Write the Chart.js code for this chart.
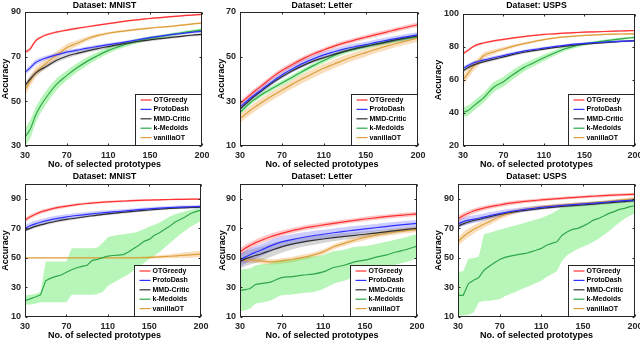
<!DOCTYPE html>
<html>
<head>
<meta charset="utf-8">
<script src="https://cdn.jsdelivr.net/npm/chart.js@4/dist/chart.umd.min.js"></script>
<style>
  html, body { margin: 0; padding: 0; background: #fff; }
  #wrap { position: relative; width: 640px; height: 342px; overflow: hidden; }
  #wrap canvas { position: absolute; }
</style>
</head>
<body>
<div id="wrap">
  <canvas id="c1"></canvas>
  <canvas id="c2"></canvas>
  <canvas id="c3"></canvas>
  <canvas id="c4"></canvas>
  <canvas id="c5"></canvas>
  <canvas id="c6"></canvas>
</div>
<script>
// Datos: eje x (numero de prototipos)
const X = [30,35,40,45,50,60,70,80,90,100,110,120,130,140,150,160,170,180,190,200];
const XK = [30,35,40,45,50,55,60,65,70,75,80,85,90,95,100,105,110,115,120,125,130,135,140,145,150,155,160,165,170,175,180,185,190,195,200];
const xTicks = [30,70,110,150,200];

const names = ['OTGreedy','ProtoDash','MMD-Critic','k-Medoids','vanillaOT'];

// Fila superior: MNIST
const mnist1_ot = [72,73.5,77,78.6,79.7,81,81.9,82.7,83.4,84.1,84.8,85.5,86.1,86.6,87.1,87.5,87.9,88.3,88.6,89];
const mnist1_otSd = [0.8,0.8,0.7,0.6,0.6,0.5,0.5,0.5,0.4,0.4,0.4,0.4,0.4,0.4,0.4,0.4,0.4,0.4,0.4,0.4];
const mnist1_pd = [63,65,67.3,68.5,69.4,70.8,72,72.9,73.8,74.6,75.4,76.1,76.9,77.7,78.5,79.2,79.9,80.4,80.9,81.3];
const mnist1_pdSd = [1.2,1.2,1.2,1.1,1,1,0.9,0.8,0.8,0.7,0.7,0.6,0.6,0.6,0.5,0.5,0.5,0.5,0.5,0.5];
const mnist1_mmd = [57,60,62.5,64.2,65.5,68.3,70.2,71.5,72.6,73.6,74.5,75.4,76.2,76.9,77.5,78.1,78.6,79.1,79.6,80];
const mnist1_mmdSd = [1.5,1.4,1.3,1.2,1.1,1,1,0.9,0.9,0.8,0.8,0.7,0.7,0.7,0.6,0.6,0.6,0.6,0.6,0.6];
const mnist1_km = [34,37.5,43.5,48,51.5,57.5,61.5,65,68,70.5,72.8,74.5,76,77.2,78.2,79,79.8,80.6,81.3,82];
const mnist1_kmSd = [4,4,3.5,3.2,3,2.6,2.2,2,1.8,1.6,1.4,1.2,1.1,1,0.9,0.8,0.8,0.7,0.7,0.7];
const mnist1_van = [55,59,62.8,65,67,70.5,74,76,78,79.5,80.5,81.2,81.8,82.3,82.8,83.2,83.6,84.1,84.6,85];
const mnist1_vanSd = [2.5,2.3,2.2,2,2,1.8,1.6,1.3,1,0.8,0.6,0.5,0.5,0.5,0.4,0.4,0.4,0.4,0.4,0.4];

// Fila superior: Letter
const letter1_ot = [29,31,33,35,36.7,40.5,43.8,46.5,49,51.2,53,54.7,56.2,57.5,58.7,59.9,61,62.2,63.3,64.3];
const letter1_otSd = [1.2,1.2,1.2,1.2,1.2,1.1,1.1,1.1,1.1,1,1,1,1,1,1,1,1,1,1,1];
const letter1_pd = [27.5,29.5,31.5,33.3,35,38.6,41.8,44.5,47,49,50.8,52.2,53.5,54.5,55.4,56.4,57.3,58.2,59,59.8];
const letter1_pdSd = [1.5,1.5,1.5,1.5,1.5,1.5,1.5,1.5,1.5,1.5,1.5,1.4,1.4,1.4,1.3,1.3,1.3,1.3,1.3,1.3];
const letter1_mmd = [26.5,28.7,30.8,32.7,34.5,38,41,43.7,46,48,49.6,51,52.4,53.6,54.6,55.6,56.6,57.6,58.5,59.3];
const letter1_mmdSd = [0.7,0.7,0.7,0.7,0.7,0.7,0.7,0.7,0.7,0.7,0.7,0.7,0.7,0.7,0.7,0.7,0.7,0.7,0.7,0.7];
const letter1_km = [25,27.3,29.5,31.2,32.8,35.6,38.2,40.8,43.5,46,48.3,50.5,52.2,53.5,54.6,55.6,56.6,57.5,58.3,59];
const letter1_kmSd = [1.1,1.1,1.1,1.1,1.1,1.1,1.1,1.1,1.1,1.1,1.1,1.1,1,1,1,1,1,1,1,1];
const letter1_van = [22.3,24.2,26,27.7,29.3,32.3,35,37.7,40.2,42.6,44.8,46.7,48.6,50.3,51.8,53.3,54.7,56,57.2,58.3];
const letter1_vanSd = [2,2,2,2,2,2,2,2,2,2,2,1.9,1.9,1.8,1.8,1.7,1.7,1.6,1.6,1.6];

// Fila superior: USPS
const usps1_ot = [76,78,80.2,81.6,82.4,83.7,84.6,85.5,86.3,87,87.6,88,88.4,88.7,89,89.2,89.4,89.6,89.8,90];
const usps1_otSd = [0.8,0.8,0.7,0.7,0.7,0.6,0.6,0.6,0.5,0.5,0.5,0.5,0.5,0.5,0.5,0.5,0.5,0.5,0.5,0.5];
const usps1_pd = [67,68.8,70.3,71.2,72,73.5,74.8,76.2,77.5,78.5,79.3,80.2,81,81.7,82.2,82.6,83,83.3,83.6,83.8];
const usps1_pdSd = [1.2,1.2,1.1,1.1,1,1,1,0.9,0.9,0.8,0.8,0.7,0.7,0.7,0.6,0.6,0.6,0.6,0.6,0.6];
const usps1_mmd = [65.5,67.5,69,70.1,71,72.5,74,75.5,76.8,77.8,78.7,79.6,80.4,81.1,81.7,82.2,82.7,83.1,83.5,83.8];
const usps1_mmdSd = [1.2,1.2,1.1,1.1,1,1,1,0.9,0.9,0.8,0.8,0.7,0.7,0.7,0.6,0.6,0.6,0.6,0.6,0.6];
const usps1_km = [40.5,41.5,44,46.5,49,55.5,59,63.5,67.5,70.5,73.5,76.2,78.8,80.5,81.8,82.8,83.7,84.5,85.2,85.8];
const usps1_kmSd = [3,3,3,3,3,3,3,2.8,2.5,2.2,2,1.7,1.4,1.2,1,0.9,0.8,0.8,0.7,0.7];
const usps1_van = [60,64,68,71,74.5,77,78.8,80.5,82,83.3,84.5,85.4,86.1,86.6,87,87.3,87.6,87.8,87.9,88];
const usps1_vanSd = [3,3,2.8,2.5,2,1.5,1.2,1,0.8,0.7,0.6,0.5,0.5,0.5,0.5,0.5,0.5,0.5,0.5,0.5];

// Fila inferior: MNIST
const mnist2_ot = [75.5,77.8,79.5,81,82,83.8,85,86,86.8,87.4,87.9,88.3,88.6,88.9,89.1,89.3,89.5,89.6,89.7,89.8];
const mnist2_otSd = [1.5,1.5,1.4,1.3,1.2,1.1,1,0.9,0.9,0.8,0.8,0.7,0.7,0.7,0.6,0.6,0.6,0.6,0.6,0.6];
const mnist2_pd = [70,71.7,73,74.1,75,76.6,77.7,78.7,79.5,80.2,80.8,81.4,82,82.6,83.2,83.7,84.1,84.4,84.6,84.8];
const mnist2_pdSd = [2.2,2.2,2.1,2,2,1.9,1.8,1.7,1.6,1.5,1.4,1.3,1.2,1.2,1.1,1,1,1,1,1];
const mnist2_mmd = [68.5,70,71.3,72.3,73.2,74.8,76,77,78,79,79.8,80.5,81.2,81.8,82.4,83,83.5,83.9,84.1,84.3];
const mnist2_mmdSd = [1,1,1,1,1,1,1,0.9,0.9,0.9,0.9,0.9,0.8,0.8,0.8,0.8,0.8,0.8,0.8,0.8];
const mnist2_km = [21,22.3,23.5,25,34.6,36.3,37.5,38.4,40.3,42,43.3,44.3,45,48.3,49,50.2,51.2,51.6,51.9,52.2,54,56.3,58.5,61.2,62.5,65.3,67,69.3,71.5,74.3,76,77.8,80,81.3,82.4];
const mnist2_kmLo = [18.5,18.5,19,20,20,20,20,20,20,25,25,25,25,25,25.5,27,31,33,35,37,39,41.5,44,46.5,49,51.5,54,57,60,63,66,68.5,71,73,75];
const mnist2_kmHi = [24.5,25,25.5,27,47.5,47.5,47.5,47.5,47.5,56.5,56.5,56.5,56.5,56.5,57,60,64,65,65.5,66,66.5,67,68,69.5,71,72.5,74,76,78,79.5,80.5,81.5,82.5,83,83.5];
const mnist2_van = [50,50,50,50,50,50,50,50,50,50,50,50,50,50.1,50.3,50.7,51.1,51.6,52.1,52.6];
const mnist2_vanSd = [0.2,0.2,0.2,0.2,0.2,0.2,0.2,0.2,0.2,0.2,0.2,0.3,0.4,0.6,0.8,1.1,1.4,1.7,2,2.2];

// Fila inferior: Letter
const letter2_ot = [54,56.5,58.5,60.3,61.8,64.5,66.6,68.4,70,71.2,72.3,73.4,74.4,75.4,76.3,77.1,77.9,78.6,79.2,79.8];
const letter2_otSd = [2.5,2.4,2.3,2.2,2.1,2,1.9,1.8,1.7,1.7,1.6,1.6,1.5,1.5,1.5,1.5,1.5,1.5,1.5,1.5];
const letter2_pd = [48.5,50.5,52.3,53.8,55.2,58.3,60.8,62.4,63.8,65,66,67,67.9,68.8,69.6,70.4,71.2,72,72.7,73.4];
const letter2_pdSd = [4.5,4.4,4.3,4.2,4.1,4,3.8,3.6,3.4,3.2,3,2.9,2.8,2.7,2.6,2.5,2.5,2.4,2.4,2.3];
const letter2_mmd = [47.5,49.3,50.5,51.6,52.6,55.2,57.5,59.3,60.7,61.8,62.8,63.7,64.5,65.3,66,66.8,67.6,68.5,69.3,70];
const letter2_mmdSd = [5,5,5,5,4.8,4.5,4,3.6,3.2,3,2.8,2.5,2.3,2.1,2,1.8,1.7,1.6,1.5,1.5];
const letter2_km = [28,28.5,29.5,32,32.6,33.8,36.7,37.3,38.3,39,40.5,43.5,45,47.3,48.5,50.3,51.9,54,55.7,58];
const letter2_kmSd = [14,14,13.5,13,13,12.5,12,12,12,12,11.5,11,10.5,10,9.5,9,9,8.5,8.5,8];
const letter2_van = [48.5,48.5,48.5,48.3,48,47.3,48,48.9,50.3,51.9,54.1,57.5,59.8,62,63.8,65.4,66.6,67.7,68.4,69.3];
const letter2_vanSd = [1.8,1.8,1.8,1.8,1.8,1.8,1.8,1.8,1.8,1.8,1.8,1.8,1.8,1.8,1.8,1.8,1.8,1.8,1.8,1.8];

// Fila inferior: USPS
const usps2_ot = [76.5,78.5,80.2,81.7,82.8,84.5,85.8,87,87.9,88.6,89.2,89.8,90.3,90.8,91.3,91.7,92.1,92.5,92.8,93];
const usps2_otSd = [2,2,1.9,1.8,1.7,1.5,1.4,1.3,1.2,1.1,1.1,1,1,1,1,1,1,1,1,1];
const usps2_pd = [73,74.5,75.5,76.2,76.8,78.5,80,81.3,82.4,83.3,84.2,84.9,85.5,86,86.5,87,87.6,88.2,88.7,89.2];
const usps2_pdSd = [2.8,2.8,2.7,2.6,2.5,2.3,2.1,1.9,1.7,1.5,1.4,1.3,1.2,1.2,1.1,1.1,1,1,1,1];
const usps2_mmd = [71.5,73,74.3,75.3,76,77.8,79.4,80.7,81.8,82.7,83.5,84.2,84.8,85.3,85.8,86.4,87,87.6,88.1,88.7];
const usps2_mmdSd = [1.2,1.2,1.2,1.1,1.1,1,1,1,1,1,0.9,0.9,0.9,0.9,0.9,0.9,0.9,0.9,0.9,0.9];
const usps2_km = [24.7,24.7,32.6,34.9,36.7,41.7,44.4,46.7,48.9,50.3,51.2,51.9,52.5,53,54.1,55.2,56.4,58.6,59.8,60.9,65.4,67.7,69.3,70,71.5,73.3,75.6,76.7,78.3,80.1,81.3,82.8,83.5,84.7,85.3];
const usps2_kmLo = [11,11,11.5,13,20,21,21,21.5,22,24,25.5,27,28.5,30,31.5,33,34.5,37,39,41,48,52,54,56,57.5,59,61,63,65.5,68,71,74,76.5,78.5,80];
const usps2_kmHi = [40.5,41,49.5,50,51,66,67,68,69,70,71,72,73,74,75,76,77,78.5,80,82,84.5,85.5,86,86.5,87,87.3,87.6,88,88.3,88.6,88.9,89.2,89.5,89.7,90];
const usps2_van = [61,64.3,67,69.2,71.1,74.5,77.8,80.3,82.2,83.6,84.6,85.3,85.9,86.4,86.9,87.4,88,88.7,89.4,90.1];
const usps2_vanSd = [3,3,3,2.8,2.6,2.3,2,1.7,1.4,1.2,1,1,0.9,0.9,0.9,0.9,0.9,0.9,0.9,0.9];

// Ejes y de cada panel
const yTicks1 = [30,50,70,90];
const yTicks2 = [10,30,50,70];
const yTicks3 = [20,40,60,80,100];
const yTicksB = [10,30,50,70,90];

const lineColors = ['#ff3030','#3030ff','#303030','#2ea84a','#dca03c'];
const bandColors = ['rgba(255,0,0,0.22)','rgba(0,0,255,0.2)','rgba(0,0,0,0.16)','rgba(0,220,0,0.28)','rgba(240,150,40,0.3)'];
const fam = '"Liberation Sans", Arial, Helvetica, sans-serif';

const panels = [
  {id:'c1', title:'Dataset: MNIST', yMin:30, yMax:90, yTicks:yTicks1, series:[
    {x:X, y:mnist1_ot, sd:mnist1_otSd}, {x:X, y:mnist1_pd, sd:mnist1_pdSd}, {x:X, y:mnist1_mmd, sd:mnist1_mmdSd},
    {x:X, y:mnist1_km, sd:mnist1_kmSd}, {x:X, y:mnist1_van, sd:mnist1_vanSd}]},
  {id:'c2', title:'Dataset: Letter', yMin:10, yMax:70, yTicks:yTicks2, series:[
    {x:X, y:letter1_ot, sd:letter1_otSd}, {x:X, y:letter1_pd, sd:letter1_pdSd}, {x:X, y:letter1_mmd, sd:letter1_mmdSd},
    {x:X, y:letter1_km, sd:letter1_kmSd}, {x:X, y:letter1_van, sd:letter1_vanSd}]},
  {id:'c3', title:'Dataset: USPS', yMin:20, yMax:100, yTicks:yTicks3, series:[
    {x:X, y:usps1_ot, sd:usps1_otSd}, {x:X, y:usps1_pd, sd:usps1_pdSd}, {x:X, y:usps1_mmd, sd:usps1_mmdSd},
    {x:X, y:usps1_km, sd:usps1_kmSd}, {x:X, y:usps1_van, sd:usps1_vanSd}]},
  {id:'c4', title:'Dataset: MNIST', yMin:10, yMax:100, yTicks:yTicksB, series:[
    {x:X, y:mnist2_ot, sd:mnist2_otSd}, {x:X, y:mnist2_pd, sd:mnist2_pdSd}, {x:X, y:mnist2_mmd, sd:mnist2_mmdSd},
    {x:XK, y:mnist2_km, lo:mnist2_kmLo, hi:mnist2_kmHi}, {x:X, y:mnist2_van, sd:mnist2_vanSd}]},
  {id:'c5', title:'Dataset: Letter', yMin:10, yMax:100, yTicks:yTicksB, series:[
    {x:X, y:letter2_ot, sd:letter2_otSd}, {x:X, y:letter2_pd, sd:letter2_pdSd}, {x:X, y:letter2_mmd, sd:letter2_mmdSd},
    {x:X, y:letter2_km, sd:letter2_kmSd}, {x:X, y:letter2_van, sd:letter2_vanSd}]},
  {id:'c6', title:'Dataset: USPS', yMin:10, yMax:100, yTicks:yTicksB, series:[
    {x:X, y:usps2_ot, sd:usps2_otSd}, {x:X, y:usps2_pd, sd:usps2_pdSd}, {x:X, y:usps2_mmd, sd:usps2_mmdSd},
    {x:XK, y:usps2_km, lo:usps2_kmLo, hi:usps2_kmHi}, {x:X, y:usps2_van, sd:usps2_vanSd}]}
];

// posicion de cada lienzo y tamaño de sus ejes
const layout = [
  {left:0,   top:0,   width:209, yW:25, rW:7,  tPad:1.56, xH:13.2, sPad:1},
  {left:216, top:0,   width:212, yW:24, rW:10, tPad:1.56, xH:13.2, sPad:1},
  {left:433, top:0,   width:207, yW:30, rW:5,  tPad:3.56, xH:13.2, sPad:1},
  {left:0,   top:171, width:209, yW:25, rW:8,  tPad:2.56, xH:12.9, sPad:1.3},
  {left:217, top:171, width:210, yW:23, rW:10, tPad:2.56, xH:12.9, sPad:1.3},
  {left:433, top:171, width:207, yW:25, rW:5,  tPad:2.56, xH:12.9, sPad:1.3}
];

// marco de los ejes con marcas hacia adentro
const marco = {
  id: 'marco',
  afterDatasetsDraw(chart) {
    const {ctx, chartArea: a, scales} = chart;
    const l = Math.round(a.left) + 0.5, r = Math.round(a.right) - 0.5;
    const t = Math.round(a.top) + 0.5, b = Math.round(a.bottom) - 0.5;
    ctx.save();
    ctx.strokeStyle = '#262626';
    ctx.lineWidth = 1;
    ctx.strokeRect(l, t, r - l, b - t);
    ctx.beginPath();
    scales.x.ticks.forEach(tk => {
      const px = Math.round(scales.x.getPixelForValue(tk.value)) + 0.5;
      ctx.moveTo(px, b); ctx.lineTo(px, b - 2);
      ctx.moveTo(px, t); ctx.lineTo(px, t + 2);
    });
    scales.y.ticks.forEach(tk => {
      const py = Math.round(scales.y.getPixelForValue(tk.value)) + 0.5;
      ctx.moveTo(l, py); ctx.lineTo(l + 2, py);
      ctx.moveTo(r, py); ctx.lineTo(r - 2, py);
    });
    ctx.stroke();
    ctx.restore();
  }
};

// leyenda en la esquina inferior derecha
const leyenda = {
  id: 'leyenda',
  afterDraw(chart) {
    const {ctx, chartArea: a} = chart;
    const items = chart.data.datasets.filter(d => !d.band);
    const w = 66, h = 51;
    const x0 = Math.round(a.right) - w - 0.5, y0 = Math.round(a.bottom) - h - 0.5;
    ctx.save();
    ctx.fillStyle = '#fff';
    ctx.fillRect(x0, y0, w, h);
    ctx.strokeStyle = '#262626';
    ctx.lineWidth = 1;
    ctx.strokeRect(x0, y0, w, h);
    ctx.font = 'bold 7px ' + fam;
    ctx.textBaseline = 'middle';
    items.forEach((d, i) => {
      const y = y0 + 5.5 + i * 9.4;
      ctx.strokeStyle = d.borderColor;
      ctx.lineWidth = 1.2;
      ctx.beginPath();
      ctx.moveTo(x0 + 5, y); ctx.lineTo(x0 + 16, y);
      ctx.stroke();
      ctx.fillStyle = '#000';
      ctx.fillText(d.label, x0 + 18, y);
    });
    ctx.restore();
  }
};

function crearGrafica(p, lay) {
  const canvas = document.getElementById(p.id);
  canvas.width = lay.width;
  canvas.height = 171;
  canvas.style.left = lay.left + 'px';
  canvas.style.top = lay.top + 'px';

  const datasets = [];
  p.series.forEach((s, i) => {
    const lo = s.lo || s.y.map((v, k) => v - s.sd[k]);
    const hi = s.hi || s.y.map((v, k) => v + s.sd[k]);
    const curva = s.x === X ? 'monotone' : 'default';
    datasets.push({band: true, data: s.x.map((x, k) => ({x, y: hi[k]})), fill: '+1',
      backgroundColor: bandColors[i], borderWidth: 0, pointRadius: 0, cubicInterpolationMode: curva, order: 10});
    datasets.push({band: true, data: s.x.map((x, k) => ({x, y: lo[k]})), fill: false,
      borderWidth: 0, pointRadius: 0, cubicInterpolationMode: curva, order: 10});
  });
  p.series.forEach((s, i) => {
    datasets.push({label: names[i], data: s.x.map((x, k) => ({x, y: s.y[k]})), fill: false,
      borderColor: lineColors[i], borderWidth: 1.2, pointRadius: 0,
      cubicInterpolationMode: s.x === X ? 'monotone' : 'default', order: 1});
  });

  const tickFont = {family: fam, size: 9, weight: 'bold'};
  new Chart(canvas, {
    type: 'line',
    data: {datasets},
    options: {
      responsive: false,
      animation: false,
      devicePixelRatio: 1,
      layout: {padding: 0},
      scales: {
        x: {
          type: 'linear', min: 30, max: 200,
          afterBuildTicks: s => { s.ticks = xTicks.map(v => ({value: v})); },
          grid: {display: false, drawTicks: false},
          border: {display: false},
          ticks: {padding: 4, color: '#262626', font: tickFont, autoSkip: false, maxRotation: 0},
          afterFit: s => { s.height = lay.xH; s.paddingLeft = 0; s.paddingRight = 0; }
        },
        y: {
          type: 'linear', min: p.yMin, max: p.yMax,
          afterBuildTicks: s => { s.ticks = p.yTicks.map(v => ({value: v})); },
          grid: {display: false, drawTicks: false},
          border: {display: false},
          ticks: {padding: 4, color: '#262626', font: tickFont},
          title: {display: true, text: 'Accuracy', color: '#000', font: {family: fam, size: 9, weight: 'bold'}, padding: 0},
          afterFit: s => { s.width = lay.yW; s.paddingTop = 0; s.paddingBottom = 0; }
        },
        y2: {
          position: 'right',
          grid: {display: false, drawTicks: false},
          border: {display: false},
          ticks: {display: false},
          afterFit: s => { s.width = lay.rW; s.paddingTop = 0; s.paddingBottom = 0; }
        }
      },
      plugins: {
        legend: {display: false},
        tooltip: {enabled: false},
        title: {display: true, text: p.title, color: '#000',
          font: {family: fam, size: 8.7, weight: 'bold'}, padding: {top: 0, bottom: lay.tPad}},
        subtitle: {display: true, position: 'bottom', text: 'No. of selected prototypes', color: '#000',
          font: {family: fam, size: 9, weight: 'bold'}, padding: {top: 0, bottom: lay.sPad}}
      }
    },
    plugins: [marco, leyenda]
  });
}

panels.forEach((p, i) => crearGrafica(p, layout[i]));
</script>
</body>
</html>
